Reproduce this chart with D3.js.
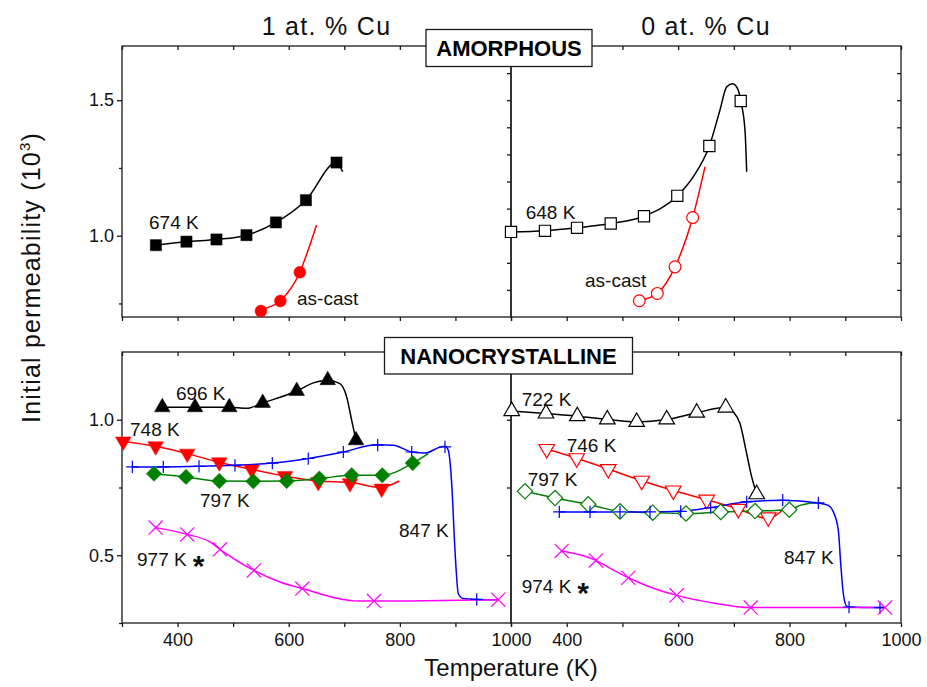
<!DOCTYPE html>
<html>
<head>
<meta charset="utf-8">
<script src="https://cdn.jsdelivr.net/npm/d3@7"></script>
<style>
  body { margin: 0; background: #fff; }
  svg text { font-family: "Liberation Sans", Arial, sans-serif; }
</style>
</head>
<body>
<div id="chart"></div>
<script>
// values: [temperature (K), initial permeability (10^3)]
const panelTitles = ['1 at. % Cu', '0 at. % Cu'];
const boxTitles = ['AMORPHOUS', 'NANOCRYSTALLINE'];
const xTickLabels = [400, 600, 800, 1000];

// amorphous, 1 at.% Cu
const am1_674 = [[361, 0.965], [416, 0.978], [470, 0.986], [524, 1.002], [577, 1.049], [631, 1.131], [686, 1.270]];
const am1_674_fit = [[361, 0.965], [416, 0.978], [470, 0.986], [524, 1.002], [577, 1.049], [631, 1.131], [686, 1.270], [697, 1.236]];
const am1_cast = [[550, 0.722], [585, 0.759], [620, 0.865]];
const am1_cast_fit = [[542, 0.707], [550, 0.722], [585, 0.759], [620, 0.865], [635, 0.947], [650, 1.039]];

// amorphous, 0 at.% Cu
const am0_648 = [[300, 1.014], [361, 1.018], [418.5, 1.029], [479, 1.045], [538.7, 1.072], [598.5, 1.147], [656, 1.331], [712.3, 1.497]];
const am0_648_fit = [[300, 1.014], [361, 1.018], [418.5, 1.029], [479, 1.045], [538.7, 1.072], [598.5, 1.147], [627, 1.217], [656, 1.331],
  [675, 1.463], [687, 1.549], [698, 1.561], [708, 1.537], [712.3, 1.497], [720, 1.389], [723, 1.236]];
const am0_cast = [[530.3, 0.760], [562.6, 0.787], [594.4, 0.885], [626.1, 1.067]];
const am0_cast_fit = [[530.3, 0.760], [562.6, 0.787], [594.4, 0.885], [626.1, 1.067], [648.2, 1.254]];

// nanocrystalline, 1 at.% Cu
const nc1_696 = [[372.5, 1.046], [431.4, 1.046], [493.1, 1.046], [553.2, 1.062], [614.4, 1.106], [670.2, 1.146], [721.1, 0.924]];
const nc1_696_fit = [[372.5, 1.046], [431.4, 1.046], [493.1, 1.046], [524.4, 1.042], [553.2, 1.062], [614.4, 1.106], [644.3, 1.136],
  [670.2, 1.146], [692.3, 1.133], [704.3, 1.084], [713.3, 0.998], [721.1, 0.924]];
const nc1_748 = [[302.3, 0.920], [360.6, 0.902], [417.5, 0.875], [475.1, 0.843], [533.4, 0.816], [593.3, 0.792], [653.3, 0.770], [710.3, 0.766], [767.3, 0.746]];
const nc1_748_fit = [[302.3, 0.920], [360.6, 0.902], [417.5, 0.875], [475.1, 0.843], [533.4, 0.816], [593.3, 0.792], [653.3, 0.774], [710.3, 0.769], [764, 0.750], [799, 0.774]];
const nc1_847 = [[318.6, 0.826], [374.3, 0.826], [438.6, 0.828], [503.3, 0.832], [570.5, 0.840], [635.2, 0.857], [698.3, 0.881], [760.1, 0.906], [821.3, 0.881], [881.2, 0.900], [938.3, 0.337]];
const nc1_847_fit = [[318.6, 0.826], [374.3, 0.826], [438.6, 0.828], [503.3, 0.832], [570.5, 0.840], [635.2, 0.857], [698.3, 0.881], [758.3, 0.908],
  [788.3, 0.906], [821.3, 0.881], [845.2, 0.877], [872.2, 0.899], [881.2, 0.902], [887.2, 0.887], [893.3, 0.764], [899.2, 0.518],
  [905.2, 0.358], [914.2, 0.340], [938.3, 0.337], [974.2, 0.336]];
const nc1_797 = [[357.6, 0.801], [415.2, 0.789], [475.1, 0.774], [536.3, 0.773], [596.4, 0.774], [655.1, 0.783], [713.3, 0.795], [768.4, 0.795], [823.1, 0.840]];
const nc1_797_fit = [[357.6, 0.801], [415.2, 0.789], [475.1, 0.774], [536.3, 0.773], [596.4, 0.774], [655.1, 0.783], [713.3, 0.795], [768.4, 0.795], [823.1, 0.840], [851.2, 0.875]];
const nc1_977 = [[360.6, 0.602], [417.5, 0.577], [476.3, 0.522], [537.5, 0.444], [624.5, 0.377], [753.5, 0.331], [977.2, 0.336]];
const nc1_977_fit = [[360.6, 0.602], [417.5, 0.577], [458.4, 0.549], [476.3, 0.522], [537.5, 0.444], [584.3, 0.401], [624.5, 0.377],
  [725.2, 0.331], [753.5, 0.331], [977.2, 0.336]];

// nanocrystalline, 0 at.% Cu
const nc0_722 = [[301.3, 1.032], [362.8, 1.023], [419.0, 1.013], [472.9, 1.001], [525.6, 0.992], [579.5, 1.001], [633.3, 1.026], [685.4, 1.045], [741.0, 0.725]];
const nc0_722_fit = [[301.3, 1.032], [362.8, 1.023], [419.0, 1.013], [472.9, 1.001], [525.6, 0.992], [579.5, 1.001], [633.3, 1.026], [685.4, 1.045],
  [699, 1.029], [711, 0.986], [723, 0.875], [732, 0.789], [741, 0.725]];
const nc0_746 = [[364.1, 0.892], [417.9, 0.858], [474.6, 0.818], [534.6, 0.775], [591.3, 0.739], [651.3, 0.705], [708.0, 0.671], [761.8, 0.640]];
const nc0_746_fit = [[364.1, 0.892], [417.9, 0.858], [474.6, 0.818], [534.6, 0.775], [591.3, 0.739], [651.3, 0.705], [708.0, 0.671], [761.8, 0.635], [788, 0.668]];
const nc0_797 = [[325.1, 0.736], [379.0, 0.711], [438.7, 0.688], [495.6, 0.662], [554.3, 0.657], [614.1, 0.654], [676.4, 0.660], [738.0, 0.663], [799.5, 0.668]];
const nc0_797_fit = [[325.1, 0.736], [379.0, 0.711], [438.7, 0.688], [495.6, 0.662], [554.3, 0.657], [614.1, 0.654], [676.4, 0.660], [738.0, 0.663], [799.5, 0.668], [820, 0.685], [848, 0.695]];
const nc0_847 = [[386.7, 0.660], [441.8, 0.660], [495.6, 0.660], [549.5, 0.660], [604.6, 0.662], [658.4, 0.676], [723.1, 0.697], [787.7, 0.703], [851.6, 0.693], [906.7, 0.309], [962.3, 0.307]];
const nc0_847_fit = [[386.7, 0.660], [441.8, 0.660], [495.6, 0.660], [549.5, 0.660], [604.6, 0.662], [658.4, 0.676], [723.1, 0.697], [787.7, 0.703],
  [851.6, 0.693], [869.6, 0.684], [878.5, 0.660], [887.5, 0.592], [891.8, 0.469], [896.5, 0.358], [902.5, 0.312], [906.7, 0.309], [962.3, 0.307], [967, 0.307]];
const nc0_974 = [[391.0, 0.516], [452.6, 0.481], [510.6, 0.417], [597.4, 0.352], [730.2, 0.307], [971.3, 0.307]];
const nc0_974_fit = [[391.0, 0.516], [452.6, 0.481], [475.7, 0.454], [510.6, 0.417], [549.5, 0.383], [597.4, 0.352], [663.1, 0.324], [730.2, 0.307], [971.3, 0.307]];

// text labels in data units
const labels_tl = [['674 K', 348.6, 1.023], ['as-cast', 614.9, 0.744]];
const labels_tr = [['648 K', 326.4, 1.061], ['as-cast', 432.8, 0.812]];
const labels_bl = [['696 K', 397, 1.072], ['748 K', 314.4, 0.939], ['797 K', 440.4, 0.678], ['847 K', 798.5, 0.567], ['977 K', 327, 0.459, '*']];
const labels_br = [['722 K', 319.2, 1.050], ['746 K', 400, 0.881], ['797 K', 330, 0.756], ['847 K', 790, 0.467], ['974 K', 319.2, 0.362, '*']];

const W = 927, H = 687;
const svg = d3.select('#chart').append('svg').attr('width', W).attr('height', H);

const xLeft = d3.scaleLinear().domain([300, 1000]).range([122, 511]);
const xRight = d3.scaleLinear().domain([300, 1000]).range([511, 901]);
const yTop = d3.scaleLinear().domain([0.7, 1.7]).range([317, 46]);
const yBot = d3.scaleLinear().domain([0.25, 1.25]).range([623, 352]);

const panels = {
  tl: {x: xLeft, y: yTop, side: 'left', labelX: false, yMajor: [1.0, 1.5], yMinor: [0.75, 1.25], labels: labels_tl},
  tr: {x: xRight, y: yTop, side: 'right', labelX: false, yTicks: d3.range(0.8, 1.69, 0.1), labels: labels_tr},
  bl: {x: xLeft, y: yBot, side: 'left', labelX: true, yMajor: [0.5, 1.0], yMinor: [0.25, 0.75], labels: labels_bl},
  br: {x: xRight, y: yBot, side: 'right', labelX: true, yTicks: [0.5, 0.75, 1.0], labels: labels_br}
};

const symPlus = {draw(ctx, size) { const r = Math.sqrt(size) / 2; ctx.moveTo(-r, 0); ctx.lineTo(r, 0); ctx.moveTo(0, -r); ctx.lineTo(0, r); }};
const symTimes = {draw(ctx, size) { const r = Math.sqrt(size) / 2; ctx.moveTo(-r, -r); ctx.lineTo(r, r); ctx.moveTo(-r, r); ctx.lineTo(r, -r); }};

const shapes = {
  square: {type: d3.symbolSquare, size: 125, rot: 0},
  circle: {type: d3.symbolCircle, size: 110, rot: 0},
  tri: {type: d3.symbolTriangle, size: 105, rot: 0},
  triDown: {type: d3.symbolTriangle, size: 105, rot: 180},
  diamond: {type: d3.symbolSquare, size: 118, rot: 45},
  plus: {type: symPlus, size: 150, rot: 0},
  times: {type: symTimes, size: 200, rot: 0}
};

const series = [
  {panel: 'tl', pts: am1_674, fit: am1_674_fit, color: '#000000', shape: 'square', filled: true},
  {panel: 'tl', pts: am1_cast, fit: am1_cast_fit, color: '#ff0000', shape: 'circle', filled: true},
  {panel: 'tr', pts: am0_648, fit: am0_648_fit, color: '#000000', shape: 'square', filled: false},
  {panel: 'tr', pts: am0_cast, fit: am0_cast_fit, color: '#ff0000', shape: 'circle', filled: false},
  {panel: 'bl', pts: nc1_696, fit: nc1_696_fit, color: '#000000', shape: 'tri', filled: true},
  {panel: 'bl', pts: nc1_748, fit: nc1_748_fit, color: '#ff0000', shape: 'triDown', filled: true},
  {panel: 'bl', pts: nc1_847, fit: nc1_847_fit, color: '#0000ff', shape: 'plus', filled: false},
  {panel: 'bl', pts: nc1_797, fit: nc1_797_fit, color: '#008000', shape: 'diamond', filled: true},
  {panel: 'bl', pts: nc1_977, fit: nc1_977_fit, color: '#ff00ff', shape: 'times', filled: false},
  {panel: 'br', pts: nc0_722, fit: nc0_722_fit, color: '#000000', shape: 'tri', filled: false},
  {panel: 'br', pts: nc0_746, fit: nc0_746_fit, color: '#ff0000', shape: 'triDown', filled: false},
  {panel: 'br', pts: nc0_797, fit: nc0_797_fit, color: '#008000', shape: 'diamond', filled: false},
  {panel: 'br', pts: nc0_847, fit: nc0_847_fit, color: '#0000ff', shape: 'plus', filled: false},
  {panel: 'br', pts: nc0_974, fit: nc0_974_fit, color: '#ff00ff', shape: 'times', filled: false}
];

const axisColor = '#1a1a1a';

function styleAxis(g) {
  g.select('.domain').remove();
  g.selectAll('line').attr('stroke', axisColor).attr('stroke-width', 1.3);
  g.attr('font-size', 18);
  g.selectAll('text').attr('fill', '#111');
}

// frames and axes
Object.keys(panels).forEach(k => {
  let p = panels[k];
  let [x0, x1] = p.x.range();
  let [y0, y1] = p.y.range();
  let xt = d3.range(300, 1001, 100);

  svg.append('g').attr('transform', 'translate(0,' + y1 + ')')
    .call(d3.axisBottom(p.x).tickValues(xt).tickSize(4).tickFormat(''))
    .call(styleAxis);
  svg.append('g').attr('transform', 'translate(0,' + y0 + ')')
    .call(d3.axisBottom(p.x).tickValues(xt).tickSize(4).tickPadding(6)
      .tickFormat(d => (p.labelX && xTickLabels.includes(d)) ? d : ''))
    .call(styleAxis);

  if (p.side == 'left') {
    svg.append('g').attr('transform', 'translate(' + x0 + ',0)')
      .call(d3.axisLeft(p.y).tickValues(p.yMajor).tickSize(5).tickPadding(3).tickFormat(d3.format('.1f')))
      .call(styleAxis);
    svg.append('g').attr('transform', 'translate(' + x0 + ',0)')
      .call(d3.axisLeft(p.y).tickValues(p.yMinor).tickSize(3).tickFormat(''))
      .call(styleAxis);
  } else {
    svg.append('g').attr('transform', 'translate(' + x0 + ',0)')
      .call(d3.axisLeft(p.y).tickValues(p.yTicks).tickSize(4).tickFormat(''))
      .call(styleAxis);
    svg.append('g').attr('transform', 'translate(' + x1 + ',0)')
      .call(d3.axisLeft(p.y).tickValues(p.yTicks).tickSize(4).tickFormat(''))
      .call(styleAxis);
  }

  svg.append('rect')
    .attr('x', x0).attr('y', y1).attr('width', x1 - x0).attr('height', y0 - y1)
    .attr('fill', 'none').attr('stroke', axisColor).attr('stroke-width', 1.3);
});

// fitted curves
series.forEach(s => {
  let p = panels[s.panel];
  let line = d3.line().x(d => p.x(d[0])).y(d => p.y(d[1])).curve(d3.curveMonotoneX);
  svg.append('path').datum(s.fit)
    .attr('d', line)
    .attr('fill', 'none')
    .attr('stroke', s.color)
    .attr('stroke-width', 1.5);
});

// markers
series.forEach(s => {
  let p = panels[s.panel];
  let sh = shapes[s.shape];
  let sym = d3.symbol().type(sh.type).size(sh.size);
  let lineMark = s.shape == 'plus' || s.shape == 'times';
  svg.append('g').selectAll('path')
    .data(s.pts).enter().append('path')
    .attr('d', sym)
    .attr('transform', d => 'translate(' + p.x(d[0]) + ',' + p.y(d[1]) + ') rotate(' + sh.rot + ')')
    .attr('fill', lineMark ? 'none' : (s.filled ? s.color : '#fff'))
    .attr('stroke', s.color)
    .attr('stroke-width', lineMark ? 1.2 : (s.filled ? 0.5 : 1.2));
});

// annotations
Object.keys(panels).forEach(k => {
  let p = panels[k];
  p.labels.forEach(l => {
    let t = svg.append('text')
      .attr('x', p.x(l[1])).attr('y', p.y(l[2]))
      .attr('font-size', 19).attr('fill', '#111')
      .text(l[0]);
    if (l[3]) {
      t.append('tspan').attr('dx', 6).attr('dy', 10)
        .attr('font-size', 30).attr('font-weight', 'bold').text(l[3]);
    }
  });
});

// column titles
svg.append('text').attr('x', 326.5).attr('y', 35).attr('text-anchor', 'middle')
  .attr('font-size', 25).attr('letter-spacing', 1.3).attr('fill', '#111').text(panelTitles[0]);
svg.append('text').attr('x', 706).attr('y', 35).attr('text-anchor', 'middle')
  .attr('font-size', 25).attr('letter-spacing', 1.3).attr('fill', '#111').text(panelTitles[1]);

// boxed section titles
[[boxTitles[0], 426, 29.5, 166, 37, 509, 56], [boxTitles[1], 384.5, 337.5, 248, 36.5, 508.5, 364]].forEach(b => {
  svg.append('rect').attr('x', b[1]).attr('y', b[2]).attr('width', b[3]).attr('height', b[4])
    .attr('fill', '#fff').attr('stroke', axisColor).attr('stroke-width', 1.3);
  svg.append('text').attr('x', b[5]).attr('y', b[6]).attr('text-anchor', 'middle')
    .attr('font-size', 22).attr('font-weight', 'bold').attr('fill', '#000').text(b[0]);
});

// axis titles
svg.append('text').attr('x', 511).attr('y', 676).attr('text-anchor', 'middle')
  .attr('font-size', 24).attr('fill', '#111').text('Temperature (K)');

let yl = svg.append('text').attr('transform', 'translate(39.5,277.5) rotate(-90)')
  .attr('text-anchor', 'middle').attr('font-size', 25).attr('letter-spacing', 1.2).attr('fill', '#111');
yl.append('tspan').text('Initial permeability (10');
yl.append('tspan').attr('font-size', 15).attr('dy', -10).text('3');
yl.append('tspan').attr('dy', 10).text(')');
</script>
</body>
</html>
